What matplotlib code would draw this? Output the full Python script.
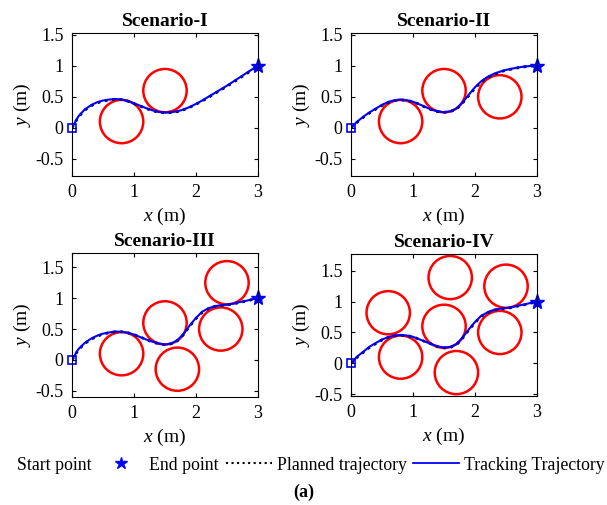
import matplotlib
matplotlib.use("Agg")
import matplotlib.pyplot as plt
from matplotlib.patches import Circle
from matplotlib.lines import Line2D

# Common font setup (Times-like)
plt.rcParams['font.family'] = 'Liberation Serif'
plt.rcParams['mathtext.fontset'] = 'custom'
plt.rcParams['mathtext.rm'] = 'Liberation Serif'
plt.rcParams['mathtext.it'] = 'Liberation Serif:italic'

# Sample x positions along the path (m)
path_x = [0.0, 0.1, 0.2, 0.3, 0.4, 0.5, 0.6, 0.7, 0.8, 0.9, 1.0,
          1.1, 1.2, 1.3, 1.4, 1.5, 1.6, 1.7, 1.8, 1.9, 2.0,
          2.1, 2.2, 2.3, 2.4, 2.5, 2.6, 2.7, 2.8, 2.9, 3.0]

# Planned trajectories (y in m)
planned_1 = [0.0, 0.17, 0.28, 0.35, 0.40, 0.43, 0.45, 0.46, 0.455, 0.43, 0.39,
             0.35, 0.31, 0.275, 0.25, 0.24, 0.245, 0.26, 0.29, 0.33, 0.38,
             0.43, 0.49, 0.55, 0.61, 0.67, 0.735, 0.80, 0.865, 0.93, 1.0]
planned_2 = [0.0, 0.09, 0.17, 0.24, 0.30, 0.36, 0.41, 0.44, 0.45, 0.44, 0.42,
             0.38, 0.33, 0.29, 0.26, 0.25, 0.26, 0.30, 0.40, 0.52, 0.64,
             0.74, 0.81, 0.86, 0.90, 0.93, 0.95, 0.97, 0.985, 0.995, 1.0]
planned_3 = [0.0, 0.16, 0.26, 0.33, 0.38, 0.42, 0.44, 0.455, 0.455, 0.44, 0.41,
             0.37, 0.33, 0.29, 0.26, 0.25, 0.26, 0.31, 0.41, 0.55, 0.67,
             0.77, 0.83, 0.865, 0.88, 0.89, 0.905, 0.93, 0.95, 0.975, 1.0]
planned_4 = [0.0, 0.10, 0.18, 0.26, 0.32, 0.38, 0.42, 0.445, 0.455, 0.45, 0.43,
             0.39, 0.35, 0.31, 0.27, 0.25, 0.255, 0.30, 0.41, 0.54, 0.66,
             0.76, 0.82, 0.86, 0.88, 0.89, 0.905, 0.93, 0.95, 0.975, 1.0]

# Tracked trajectories (y in m)
tracked_1 = [0.0, 0.18, 0.29, 0.36, 0.41, 0.44, 0.455, 0.465, 0.455, 0.43, 0.395,
             0.355, 0.315, 0.28, 0.255, 0.245, 0.25, 0.265, 0.295, 0.335, 0.385,
             0.44, 0.50, 0.56, 0.62, 0.68, 0.745, 0.81, 0.875, 0.94, 1.0]
tracked_2 = [0.0, 0.10, 0.18, 0.25, 0.31, 0.37, 0.415, 0.445, 0.455, 0.445, 0.42,
             0.38, 0.335, 0.29, 0.265, 0.25, 0.265, 0.31, 0.41, 0.535, 0.655,
             0.75, 0.82, 0.87, 0.905, 0.935, 0.955, 0.975, 0.99, 0.998, 1.0]
tracked_3 = [0.0, 0.17, 0.27, 0.34, 0.39, 0.425, 0.445, 0.46, 0.455, 0.44, 0.41,
             0.37, 0.33, 0.295, 0.265, 0.25, 0.265, 0.32, 0.42, 0.56, 0.68,
             0.78, 0.835, 0.87, 0.885, 0.895, 0.91, 0.935, 0.955, 0.98, 1.0]
tracked_4 = [0.0, 0.11, 0.19, 0.27, 0.33, 0.385, 0.425, 0.45, 0.46, 0.45, 0.43,
             0.39, 0.35, 0.31, 0.275, 0.255, 0.265, 0.31, 0.42, 0.55, 0.67,
             0.77, 0.825, 0.865, 0.885, 0.895, 0.91, 0.935, 0.955, 0.98, 1.0]

# Obstacles: centres (x, y), radius 0.35 m
obstacle_radius = 0.35
obstacles_1 = [(0.8, 0.1), (1.5, 0.6)]
obstacles_2 = [(0.8, 0.1), (1.5, 0.6), (2.4, 0.5)]
obstacles_3 = [(0.8, 0.1), (1.5, 0.6), (1.7, -0.15), (2.4, 0.5), (2.5, 1.25)]
obstacles_4 = [(0.6, 0.82), (0.8, 0.1), (1.5, 0.6), (1.6, 1.39),
               (1.7, -0.15), (2.4, 0.5), (2.5, 1.25)]

start_point = (0, 0)
end_point = (3, 1)

titles = ['Scenario-I', 'Scenario-II', 'Scenario-III', 'Scenario-IV']
planned = [planned_1, planned_2, planned_3, planned_4]
tracked = [tracked_1, tracked_2, tracked_3, tracked_4]
obstacles = [obstacles_1, obstacles_2, obstacles_3, obstacles_4]
y_limits = [(-0.78, 1.53), (-0.78, 1.53), (-0.6, 1.73), (-0.53, 1.77)]

# axes positions [left, bottom, width, height] in figure fractions
positions = [[0.1186, 0.6515, 0.3064, 0.283],
             [0.5783, 0.6515, 0.3064, 0.283],
             [0.1186, 0.2139, 0.3064, 0.285],
             [0.5783, 0.2158, 0.3064, 0.281]]

fig = plt.figure(figsize=(6.07, 5.05), dpi=100)

for i in range(4):
    ax = fig.add_axes(positions[i])
    for c in obstacles[i]:
        ax.add_patch(Circle(c, obstacle_radius, fill=False, edgecolor='red', linewidth=1.8))
    ax.plot(path_x, planned[i], color='black', linestyle=':', linewidth=2)
    ax.plot(path_x, tracked[i], color='blue', linewidth=1.5)
    ax.plot(start_point[0], start_point[1], marker='s', markersize=6, markerfacecolor='none',
            markeredgecolor='blue', markeredgewidth=1.2, clip_on=False)
    ax.plot(end_point[0], end_point[1], marker='*', markersize=11, color='blue', clip_on=False)

    ax.set_xlim(0, 3)
    ax.set_ylim(y_limits[i])
    ax.set_xticks([0, 1, 2, 3])
    ax.set_yticks([-0.5, 0, 0.5, 1, 1.5])
    ax.set_yticklabels(['-0.5', '0', '0.5', '1', '1.5'])
    ax.tick_params(direction='in', top=True, right=True, labelsize=13, length=3, pad=6)
    for s in ax.spines.values():
        s.set_linewidth(0.8)
    ax.set_title(titles[i], fontsize=14, fontweight='bold', pad=5)
    ax.set_xlabel('$x$ (m)', fontsize=14, labelpad=3)
    ax.set_ylabel('$y$ (m)', fontsize=14, labelpad=2)

# Legend along the bottom (first handle falls off the left edge, as in the original)
handles = [Line2D([], [], linestyle='none'),
           Line2D([], [], linestyle='none', marker='*', markersize=9, color='blue'),
           Line2D([], [], color='black', linestyle=':', linewidth=1.5),
           Line2D([], [], color='blue', linewidth=1.3)]
labels = ['Start point', 'End point', 'Planned trajectory', 'Tracking Trajectory']
fig.legend(handles, labels, loc='center', bbox_to_anchor=(0.47, 0.079), ncol=4,
           frameon=False, fontsize=12.8, handlelength=2.6, handletextpad=0.27,
           columnspacing=0.38)

fig.text(0.5, 0.025, '(a)', ha='center', va='center', fontsize=13, fontweight='bold')

fig.savefig('out.png', dpi=100)
